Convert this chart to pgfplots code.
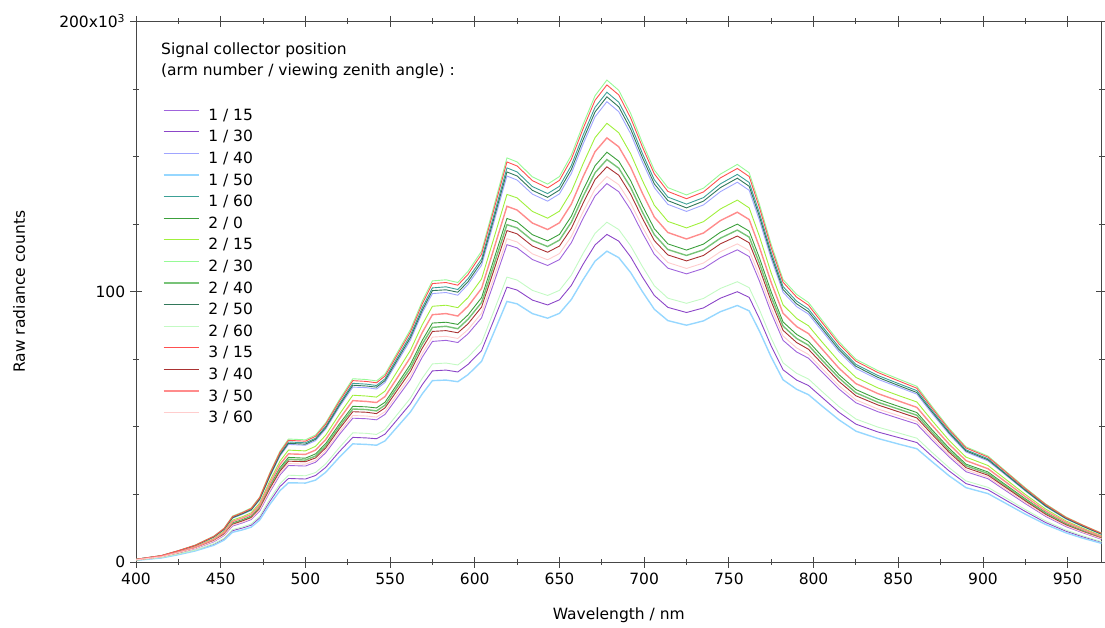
\documentclass[border=0pt]{standalone}
\usepackage{fontspec}
\setmainfont{DejaVu Sans}
\usepackage{pgfplots}
\usepackage{pgfplotstable}
\pgfplotsset{compat=1.18}

% line colours, one per collector position (arm / zenith angle)
\definecolor{c1v15}{RGB}{160,100,220}
\definecolor{c1v30}{RGB}{140,70,200}
\definecolor{c1v40}{RGB}{160,165,255}
\definecolor{c1v50}{RGB}{150,215,255}
\definecolor{c1v60}{RGB}{60,160,150}
\definecolor{c2v0}{RGB}{60,160,60}
\definecolor{c2v15}{RGB}{160,240,60}
\definecolor{c2v30}{RGB}{150,250,150}
\definecolor{c2v40}{RGB}{120,195,120}
\definecolor{c2v50}{RGB}{50,120,90}
\definecolor{c2v60}{RGB}{195,250,195}
\definecolor{c3v15}{RGB}{255,80,80}
\definecolor{c3v40}{RGB}{170,50,50}
\definecolor{c3v50}{RGB}{255,140,140}
\definecolor{c3v60}{RGB}{255,205,205}
\definecolor{axisgray}{RGB}{70,70,70}

% raw radiance counts (x 10^3) versus wavelength (nm)
\pgfplotstableread{
w   a2v30 a3v15 a1v60 a2v50 a1v40 a2v15 a3v50 a2v0  a2v40 a3v40 a3v60 a1v15 a2v60 a1v30 a1v50
400 1.0 1.0 1.0 1.0 1.0 0.9 0.9 0.9 0.8 0.8 0.8 0.8 0.7 0.7 0.6
415 2.4 2.4 2.3 2.3 2.3 2.2 2.1 2.0 2.0 2.0 1.9 1.9 1.7 1.6 1.5
425 4.2 4.2 4.1 4.1 4.0 3.8 3.7 3.6 3.5 3.4 3.4 3.3 3.0 2.9 2.7
435 6.3 6.2 6.1 6.1 6.0 5.7 5.5 5.4 5.3 5.2 5.0 4.9 4.4 4.3 4.1
446 9.6 9.5 9.4 9.3 9.2 8.7 8.4 8.2 8.0 7.9 7.7 7.5 6.8 6.5 6.2
452 12.5 12.4 12.2 12.1 11.9 11.4 11.0 10.6 10.4 10.3 10.0 9.8 8.8 8.5 8.1
457 17.0 16.8 16.6 16.4 16.2 15.5 15.0 14.5 14.2 13.9 13.6 13.3 12.0 11.6 11.0
463 18.5 18.3 18.0 17.9 17.7 16.8 16.3 15.7 15.4 15.2 14.8 14.5 13.0 12.6 11.9
468 20.0 19.8 19.5 19.3 19.1 18.2 17.6 17.0 16.7 16.4 16.0 15.7 14.1 13.6 12.9
473 24.0 23.8 23.4 23.2 22.9 21.8 21.1 20.4 20.0 19.7 19.2 18.8 16.9 16.3 15.5
479 33.0 32.7 32.2 31.8 31.5 30.0 29.0 28.1 27.6 27.1 26.4 25.9 23.3 22.4 21.3
485 41.0 40.6 40.0 39.6 39.2 37.3 36.1 34.9 34.2 33.6 32.8 32.2 28.9 27.9 26.4
490 45.5 45.0 44.4 43.9 43.5 41.4 40.0 38.7 38.0 37.3 36.4 35.7 32.1 30.9 29.3
500 45.2 44.7 44.1 43.6 43.2 41.1 39.8 38.4 37.7 37.1 36.2 35.5 31.9 30.7 29.2
506 47.0 46.5 45.8 45.4 44.9 42.8 41.4 40.0 39.2 38.5 37.6 36.9 33.1 32.0 30.3
512 51.5 51.0 50.2 49.7 49.2 46.9 45.3 43.8 43.0 42.2 41.2 40.4 36.3 35.0 33.2
520 60.0 59.4 58.5 57.9 57.3 54.6 52.8 51.0 50.1 49.2 48.0 47.1 42.3 40.8 38.7
528 67.8 67.1 66.1 65.4 64.7 61.7 59.7 57.6 56.6 55.6 54.2 53.2 47.8 46.1 43.7
536 67.5 66.8 65.8 65.1 64.5 61.4 59.4 57.4 56.4 55.4 54.0 53.0 47.6 45.9 43.5
542 67.0 66.3 65.3 64.7 64.0 61.0 59.0 57.0 55.9 54.9 53.6 52.6 47.2 45.6 43.2
547 69.5 68.8 67.8 67.1 66.4 63.2 61.2 59.1 58.0 57.0 55.6 54.6 49.0 47.3 44.8
554 77.2 76.4 75.3 74.5 73.7 70.3 67.9 65.6 64.5 63.3 61.8 60.6 54.4 52.5 49.8
562 86.0 85.1 83.9 83.0 82.1 78.3 75.7 73.1 71.8 70.5 68.8 67.5 60.6 58.5 55.5
569 96.5 95.5 94.1 93.1 92.2 87.8 84.9 82.0 80.6 79.1 77.2 75.8 68.0 65.6 62.2
575 104.0 103.0 101.4 100.4 99.3 94.6 91.5 88.4 86.8 85.3 83.2 81.6 73.3 70.7 67.1
583 104.4 103.4 101.8 100.7 99.7 95.0 91.9 88.7 87.2 85.6 83.5 82.0 73.6 71.0 67.3
590 103.4 102.4 100.8 99.8 98.7 94.1 91.0 87.9 86.3 84.8 82.7 81.2 72.9 70.3 66.7
596 107.5 106.4 104.8 103.7 102.7 97.8 94.6 91.4 89.8 88.1 86.0 84.4 75.8 73.1 69.3
604 115.0 113.9 112.1 111.0 109.8 104.7 101.2 97.8 96.0 94.3 92.0 90.3 81.1 78.2 74.2
611 131.0 129.7 127.7 126.4 125.1 119.2 115.3 111.4 109.4 107.4 104.8 102.8 92.4 89.1 84.5
619 149.5 148.0 145.8 144.3 142.8 136.0 131.6 127.1 124.8 122.6 119.6 117.4 105.4 101.7 96.4
625 148.0 146.5 144.3 142.8 141.3 134.7 130.2 125.8 123.6 121.4 118.4 116.2 104.3 100.6 95.5
634 142.5 141.1 138.9 137.5 136.1 129.7 125.4 121.1 119.0 116.9 114.0 111.9 100.5 96.9 91.9
643 139.8 138.4 136.3 134.9 133.5 127.2 123.0 118.8 116.7 114.6 111.8 109.7 98.6 95.1 90.2
650 142.6 141.2 139.0 137.6 136.2 129.8 125.5 121.2 119.1 116.9 114.1 111.9 100.5 97.0 92.0
657 150.5 149.0 146.7 145.2 143.7 137.0 132.4 127.9 125.7 123.4 120.4 118.1 106.1 102.3 97.1
664 162.0 160.4 158.0 156.3 154.7 147.4 142.6 137.7 135.3 132.8 129.6 127.2 114.2 110.2 104.5
671 172.5 170.8 168.2 166.5 164.7 157.0 151.8 146.6 144.0 141.5 138.0 135.4 121.6 117.3 111.3
678 178.3 176.5 173.8 172.1 170.3 162.3 156.9 151.6 148.9 146.2 142.6 140.0 125.7 121.2 115.0
685 174.5 172.8 170.1 168.4 166.6 158.8 153.6 148.3 145.7 143.1 139.6 137.0 123.0 118.7 112.6
692 166.0 164.3 161.9 160.2 158.5 151.1 146.1 141.1 138.6 136.1 132.8 130.3 117.0 112.9 107.1
699 155.0 153.5 151.1 149.6 148.0 141.1 136.4 131.8 129.4 127.1 124.0 121.7 109.3 105.4 100.0
706 145.0 143.6 141.4 139.9 138.5 132.0 127.6 123.3 121.1 118.9 116.0 113.8 102.2 98.6 93.5
714 138.5 137.1 135.0 133.7 132.3 126.0 121.9 117.7 115.6 113.6 110.8 108.7 97.6 94.2 89.3
725 135.8 134.4 132.4 131.0 129.7 123.6 119.5 115.4 113.4 111.4 108.6 106.6 95.7 92.3 87.6
735 138.3 136.9 134.8 133.5 132.1 125.9 121.7 117.6 115.5 113.4 110.6 108.6 97.5 94.0 89.2
745 143.5 142.1 139.9 138.5 137.0 130.6 126.3 122.0 119.8 117.7 114.8 112.6 101.2 97.6 92.6
755 147.1 145.6 143.4 142.0 140.5 133.9 129.4 125.0 122.8 120.6 117.7 115.5 103.7 100.0 94.9
762 144.0 142.6 140.4 139.0 137.5 131.0 126.7 122.4 120.2 118.1 115.2 113.0 101.5 97.9 92.9
768 132.5 131.2 129.2 127.9 126.5 120.6 116.6 112.6 110.6 108.7 106.0 104.0 93.4 90.1 85.5
775 117.5 116.3 114.6 113.4 112.2 106.9 103.4 99.9 98.1 96.4 94.0 92.2 82.8 79.9 75.8
782 104.5 103.5 101.9 100.8 99.8 95.1 92.0 88.8 87.3 85.7 83.6 82.0 73.7 71.1 67.4
790 99.0 98.0 96.5 95.5 94.5 90.1 87.1 84.2 82.7 81.2 79.2 77.7 69.8 67.3 63.9
797 96.0 95.0 93.6 92.6 91.7 87.4 84.5 81.6 80.2 78.7 76.8 75.4 67.7 65.3 61.9
805 89.5 88.6 87.3 86.4 85.5 81.4 78.8 76.1 74.7 73.4 71.6 70.3 63.1 60.9 57.7
815 81.5 80.7 79.5 78.6 77.8 74.2 71.7 69.3 68.1 66.8 65.2 64.0 57.5 55.4 52.6
825 75.0 74.3 73.1 72.4 71.6 68.3 66.0 63.8 62.6 61.5 60.0 58.9 52.9 51.0 48.4
838 70.8 70.1 69.0 68.3 67.6 64.4 62.3 60.2 59.1 58.1 56.6 55.6 49.9 48.1 45.7
851 67.5 66.8 65.8 65.1 64.5 61.4 59.4 57.4 56.4 55.4 54.0 53.0 47.6 45.9 43.5
861 65.0 64.3 63.4 62.7 62.1 59.2 57.2 55.3 54.3 53.3 52.0 51.0 45.8 44.2 41.9
870 57.5 56.9 56.1 55.5 54.9 52.3 50.6 48.9 48.0 47.2 46.0 45.1 40.5 39.1 37.1
880 49.5 49.0 48.3 47.8 47.3 45.0 43.6 42.1 41.3 40.6 39.6 38.9 34.9 33.7 31.9
890 42.6 42.2 41.5 41.1 40.7 38.8 37.5 36.2 35.6 34.9 34.1 33.4 30.0 29.0 27.5
903 39.2 38.8 38.2 37.8 37.4 35.7 34.5 33.3 32.7 32.1 31.4 30.8 27.6 26.7 25.3
912 34.4 34.1 33.5 33.2 32.9 31.3 30.3 29.2 28.7 28.2 27.5 27.0 24.3 23.4 22.2
925 27.5 27.2 26.8 26.5 26.3 25.0 24.2 23.4 23.0 22.6 22.0 21.6 19.4 18.7 17.7
937 21.5 21.3 21.0 20.7 20.5 19.6 18.9 18.3 18.0 17.6 17.2 16.9 15.2 14.6 13.9
949 16.7 16.5 16.3 16.1 15.9 15.2 14.7 14.2 13.9 13.7 13.4 13.1 11.8 11.4 10.8
959 13.7 13.6 13.4 13.2 13.1 12.5 12.1 11.6 11.4 11.2 11.0 10.8 9.7 9.3 8.8
970 10.7 10.6 10.4 10.3 10.2 9.7 9.4 9.1 8.9 8.8 8.6 8.4 7.5 7.3 6.9
}\spectra

\begin{document}
\fontsize{15.5bp}{18.6bp}\selectfont
\begin{tikzpicture}[x=1bp,y=1bp]
\path[use as bounding box] (0bp,0bp) rectangle (1105bp,628bp);
\begin{axis}[
  at={(136bp,66bp)}, anchor=south west,
  width=965.5bp, height=540.6bp, scale only axis,
  xmin=400, xmax=970, ymin=0, ymax=200,
  xtick={400,450,...,950},
  xticklabels={400,450,500,550,600,650,700,750,800,850,900,950},
  minor x tick num=1,
  ytick={0,100,200},
  yticklabels={0,100,{200x10\textsuperscript{3}}},
  minor y tick num=3,
  /pgf/number format/assume math mode=true,
  tick align=center,
  major tick length=11bp, minor tick length=6bp,
  axis line style={axisgray, line width=0.8bp},
  every tick/.style={axisgray, line width=0.8bp},
  xlabel={Wavelength / nm},
  ylabel={Raw radiance counts},
  xlabel style={at={(axis description cs:0.5,-0.098)}, anchor=center, inner sep=0pt},
  ylabel style={at={(axis description cs:-0.1212,0.5)}, anchor=center, inner sep=0pt},
  legend cell align=left,
  legend image code/.code={\draw[#1] (0bp,5.5bp) -- (35bp,5.5bp); \path (44bp,0bp);},
  legend style={draw=none, fill=none, at={(axis description cs:0.02765,0.8398)},
    anchor=north west, inner sep=0pt, row sep=6.6bp,
    nodes={inner sep=0pt, text height=12bp, text depth=3bp}},
  every axis plot/.append style={line width=0.9bp},
]
\addplot[c1v15] table[x=w,y=a1v15]{\spectra};
\addlegendentry{1 / 15}
\addplot[c1v30] table[x=w,y=a1v30]{\spectra};
\addlegendentry{1 / 30}
\addplot[c1v40] table[x=w,y=a1v40]{\spectra};
\addlegendentry{1 / 40}
\addplot[c1v50, line width=1.4bp] table[x=w,y=a1v50]{\spectra};
\addlegendentry{1 / 50}
\addplot[c1v60] table[x=w,y=a1v60]{\spectra};
\addlegendentry{1 / 60}
\addplot[c2v0] table[x=w,y=a2v0]{\spectra};
\addlegendentry{2 / 0}
\addplot[c2v15] table[x=w,y=a2v15]{\spectra};
\addlegendentry{2 / 15}
\addplot[c2v30] table[x=w,y=a2v30]{\spectra};
\addlegendentry{2 / 30}
\addplot[c2v40, line width=1.4bp] table[x=w,y=a2v40]{\spectra};
\addlegendentry{2 / 40}
\addplot[c2v50] table[x=w,y=a2v50]{\spectra};
\addlegendentry{2 / 50}
\addplot[c2v60] table[x=w,y=a2v60]{\spectra};
\addlegendentry{2 / 60}
\addplot[c3v15] table[x=w,y=a3v15]{\spectra};
\addlegendentry{3 / 15}
\addplot[c3v40] table[x=w,y=a3v40]{\spectra};
\addlegendentry{3 / 40}
\addplot[c3v50, line width=1.4bp] table[x=w,y=a3v50]{\spectra};
\addlegendentry{3 / 50}
\addplot[c3v60] table[x=w,y=a3v60]{\spectra};
\addlegendentry{3 / 60}
\end{axis}
% legend heading
\node[anchor=base west, inner sep=0pt] at (161bp,573bp) {Signal collector position};
\node[anchor=base west, inner sep=0pt] at (161bp,552bp) {(arm number / viewing zenith angle) :};
\end{tikzpicture}
\end{document}
